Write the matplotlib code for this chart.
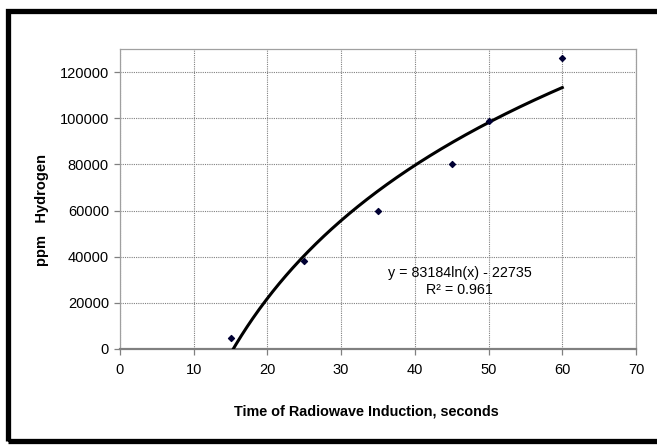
import numpy as np
import matplotlib.pyplot as plt
from matplotlib.patches import Rectangle

plt.rcParams['font.family'] = ['Liberation Sans', 'DejaVu Sans']

# data
time_s = [15, 25, 35, 45, 50, 60]
ppm_h = [4600, 38250, 60000, 80000, 99000, 126000]

x_ticks = [0, 10, 20, 30, 40, 50, 60, 70]
y_ticks = [0, 20000, 40000, 60000, 80000, 100000, 120000]

eq_text = "y = 83184ln(x) - 22735"
r2_text = "R\u00b2 = 0.961"

W, H = 657, 447
fig = plt.figure(figsize=(W / 100, H / 100), dpi=100)
ax = fig.add_axes([120 / W, 1 - 349 / H, (636 - 120) / W, (349 - 49) / H])

# logarithmic trendline fitted to the points
a, b = np.polyfit(np.log(time_s), ppm_h, 1)
xs = np.linspace(min(time_s), max(time_s), 300)
ax.plot(xs, a * np.log(xs) + b, color='black', lw=2.2, zorder=3)

ax.scatter(time_s, ppm_h, marker='D', s=9, color='#000033', zorder=4)

ax.set_xlim(0, 70)
ax.set_ylim(0, 130000)
ax.set_xticks(x_ticks)
ax.set_yticks(y_ticks)
ax.grid(True, color='#808080', ls=(0, (1, 1)), lw=0.8)
ax.set_axisbelow(True)
for s in ['top', 'right', 'left']:
    ax.spines[s].set_color('#a0a0a0')
    ax.spines[s].set_linewidth(0.9)
ax.spines['bottom'].set_color('#808080')
ax.spines['bottom'].set_linewidth(1.6)
ax.tick_params(direction='out', length=4, width=0.9, color='#808080',
               labelsize=10.5, labelcolor='black', pad=4)
ax.tick_params(axis='x', pad=6)

ax.text(46.1, 32900, eq_text, ha='center', va='center', fontsize=10.3)
ax.text(46.1, 25500, r2_text, ha='center', va='center', fontsize=10.3)

fig.text(366 / W, 1 - 411 / H, "Time of Radiowave Induction, seconds",
         ha='center', va='center', fontsize=10.4, fontweight='bold')
fig.text(42 / W, 1 - 210 / H, "ppm   Hydrogen", rotation=90,
         ha='center', va='center', fontsize=10.5, fontweight='bold')

# thick outer frame
fig.patches.append(Rectangle((7.5 / W, 1 - 441 / H), (665 - 7.5) / W, (441 - 10.5) / H,
                             transform=fig.transFigure, fill=False,
                             edgecolor='black', lw=3.8))

fig.savefig('out.png', dpi=100)
